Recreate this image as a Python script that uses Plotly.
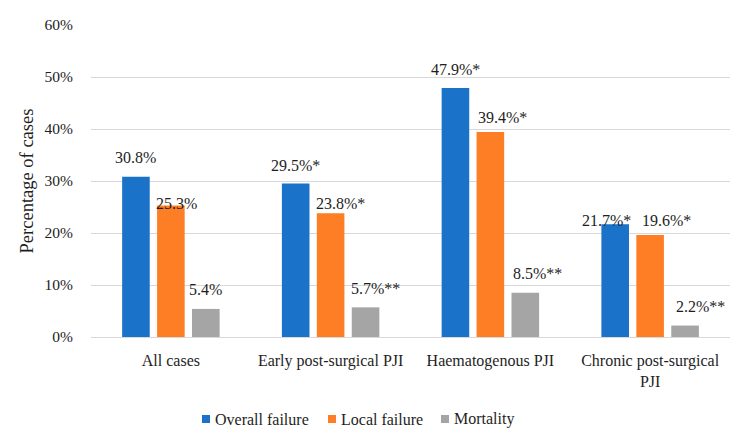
import plotly.graph_objects as go

categories = ["All cases", "Early post-surgical PJI", "Haematogenous PJI", "Chronic post-surgical<br>PJI"]
series_names = ["Overall failure", "Local failure", "Mortality"]
overall_failure = [30.8, 29.5, 47.9, 21.7]
local_failure = [25.3, 23.8, 39.4, 19.6]
mortality = [5.4, 5.7, 8.5, 2.2]
overall_labels = ["30.8%", "29.5%*", "47.9%*", "21.7%*"]
local_labels = ["25.3%", "23.8%*", "39.4%*", "19.6%*"]
mortality_labels = ["5.4%", "5.7%**", "8.5%**", "2.2%**"]
y_ticks = [0, 10, 20, 30, 40, 50, 60]

colors = ["#1A72C9", "#FD7E24", "#A5A5A5"]
FONT = "Liberation Serif"
TXT = "#1E1E1E"

# label placement tweaks (pixels): horizontal shift, height of label centre above bar top
label_dx = [[0, 0, 0, -9], [6, 10, 12, 16], [0, 10, 12, 15]]
label_dy = [[19, 18, 18, 4], [2, 10, 15, 15], [19, 19, 19, 19]]

values = [overall_failure, local_failure, mortality]
labels = [overall_labels, local_labels, mortality_labels]

fig = go.Figure()
for name, vals, col in zip(series_names, values, colors):
    fig.add_trace(go.Bar(x=categories, y=vals, name=name, showlegend=False,
                         marker=dict(color=col, line=dict(width=0))))

# page has an 8px body margin
W, H = 745, 435
ml, mr, mt, mb = 83, 23, 17, 106
plot_w = W - ml - mr
plot_h = H - mt - mb
cat_px = plot_w / len(categories)
bargap, groupgap = 0.344, 0.21
slot_px = cat_px * (1 - bargap) / 3

annotations = []
for i in range(3):
    for j, c in enumerate(categories):
        annotations.append(dict(
            x=c, y=values[i][j], xref="x", yref="y", text=labels[i][j], showarrow=False,
            xanchor="center", yanchor="middle",
            xshift=(i - 1) * slot_px + label_dx[i][j], yshift=label_dy[i][j],
            font=dict(family=FONT, size=16, color=TXT)))

# custom legend (pixel positions relative to the plot area's left edge / bottom)
leg_sq_left = [111, 237, 350]
leg_sq_size = 8
leg_text_gap = 3
leg_y = -82  # px below plot bottom
shapes = []
for k, name in enumerate(series_names):
    x0 = leg_sq_left[k] / plot_w
    x1 = (leg_sq_left[k] + leg_sq_size) / plot_w
    yc = leg_y / plot_h
    hs = leg_sq_size / 2 / plot_h
    shapes.append(dict(type="rect", xref="paper", yref="paper", x0=x0, x1=x1, y0=yc - hs, y1=yc + hs,
                       fillcolor=colors[k], line=dict(width=0)))
    annotations.append(dict(x=x1, y=yc, xref="paper", yref="paper", text=name, showarrow=False,
                            xanchor="left", yanchor="middle", xshift=leg_text_gap,
                            font=dict(family=FONT, size=16, color=TXT)))

fig.update_layout(
    width=W, height=H, margin=dict(l=ml, r=mr, t=mt, b=mb, autoexpand=False),
    paper_bgcolor="white", plot_bgcolor="white",
    barmode="group", bargap=bargap, bargroupgap=groupgap,
    font=dict(family=FONT, size=16, color=TXT),
    annotations=annotations, shapes=shapes,
    showlegend=False,
)
fig.update_yaxes(range=[0, 60], tickvals=y_ticks, ticktext=[f"{v}%" for v in y_ticks],
                 showgrid=True, gridcolor="#D9D9D9", gridwidth=1, zeroline=False, showline=False,
                 ticks="", ticklabelstandoff=17, tickfont=dict(family=FONT, size=15.5, color=TXT),
                 title=dict(text="Percentage of cases", standoff=6, font=dict(family=FONT, size=18.5, color=TXT)),
                 automargin=False)
fig.update_xaxes(showline=True, linecolor="#D9D9D9", linewidth=1, ticks="", ticklabelstandoff=9,
                 tickfont=dict(family=FONT, size=16, color=TXT), automargin=False)

fig.write_html("out.html")
